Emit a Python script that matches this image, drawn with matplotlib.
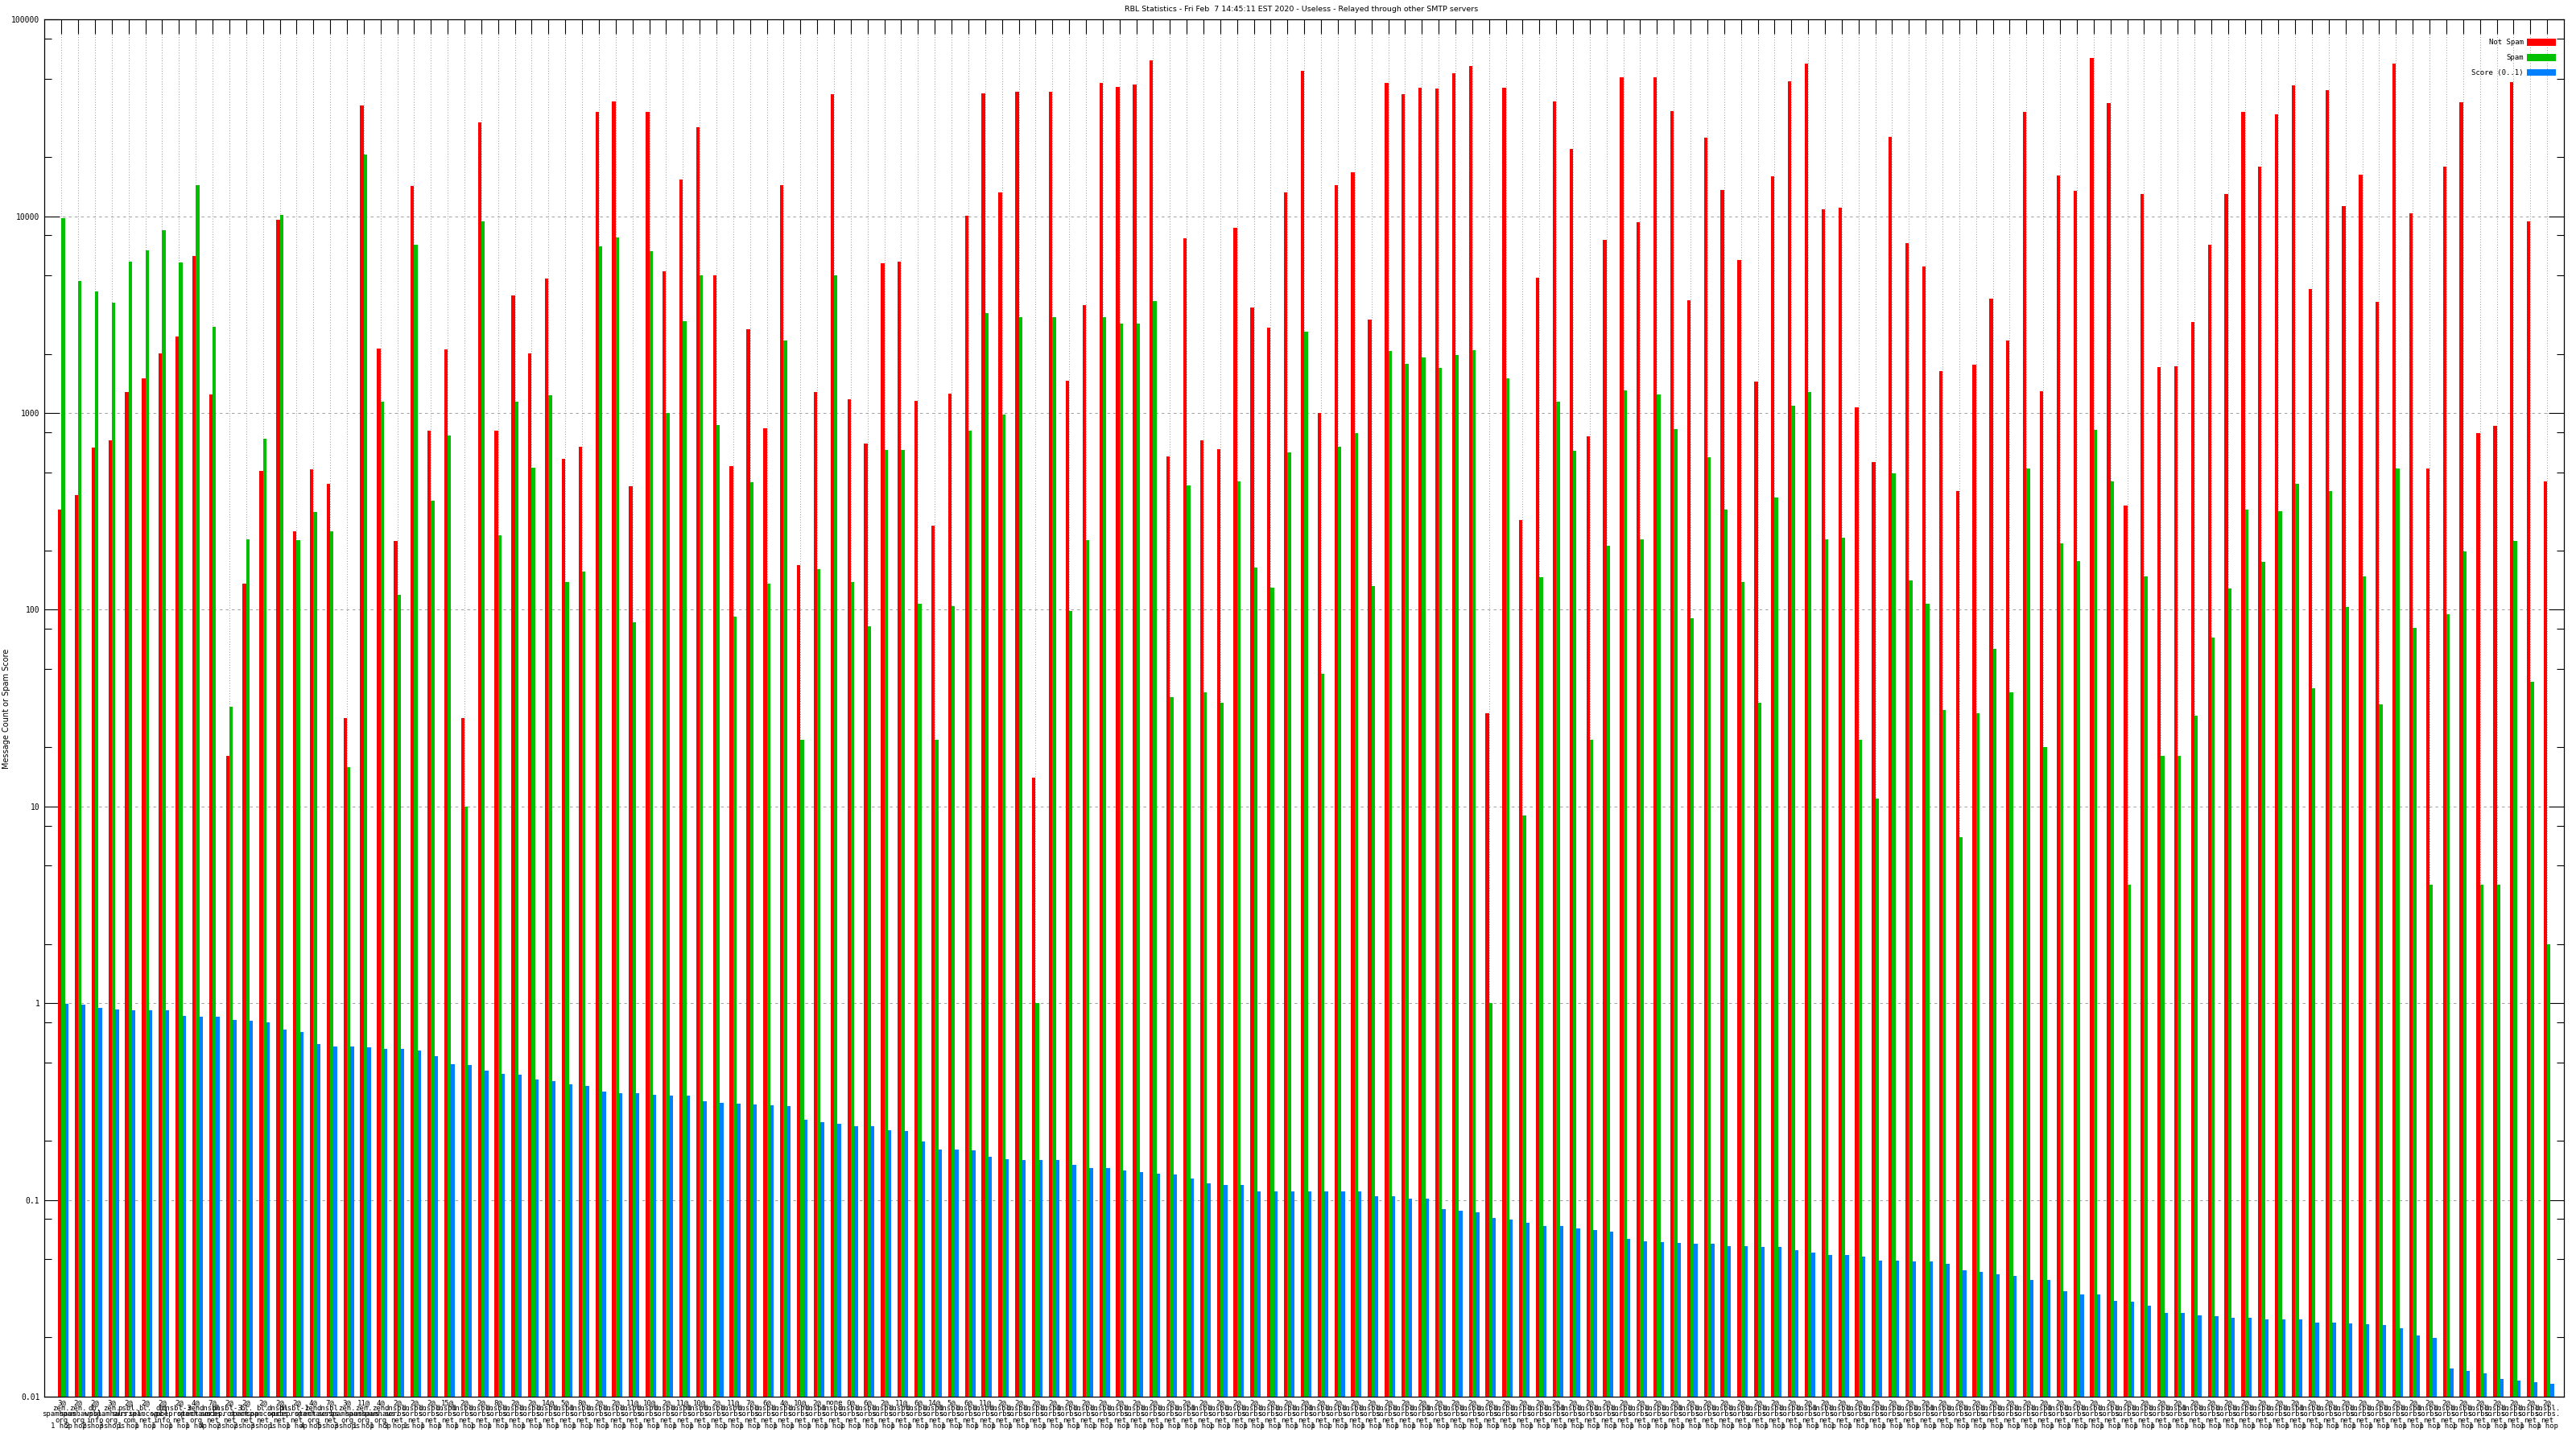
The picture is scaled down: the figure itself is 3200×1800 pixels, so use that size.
import matplotlib
matplotlib.use("Agg")
import matplotlib.pyplot as plt
import numpy as np
from matplotlib.ticker import FixedLocator, FixedFormatter, NullFormatter
from matplotlib.patches import Patch

plt.rcParams['lines.scale_dashes'] = False

TITLE = "RBL Statistics - Fri Feb  7 14:45:11 EST 2020 - Useless - Relayed through other SMTP servers"

not_spam = [324, 383, 668, 726, 1282, 1496, 2018, 2455, 6285, 1242,
            18.0, 136, 506, 9594, 251, 516, 438, 28.1, 36700, 2125,
            224, 14200, 813, 2103, 28.1, 29900, 813, 3948, 2018, 4805,
            585, 676, 33800, 38300, 425, 33800, 5272, 15420, 28400, 5010,
            538, 2668, 839, 14350, 168, 1282, 41600, 1180, 697, 5785,
            5906, 1156, 267, 1255, 10100, 42000, 13220, 42900, 14.0, 42900,
            1465, 3525, 47550, 45600, 46600, 62200, 603, 7730, 726, 655,
            8745, 3452, 2723, 13220, 54900, 1000, 14350, 16760, 2987, 47550,
            41600, 45150, 44700, 53250, 57850, 29.9, 45150, 287, 4855, 38300,
            21900, 765, 7570, 51100, 9300, 51100, 34200, 3750, 25070, 13640,
            5970, 1450, 15910, 48550, 59700, 10860, 11090, 1064, 561, 25330,
            7330, 5550, 1641, 403, 1765, 3828, 2332, 33800, 1295, 16080,
            13490, 63500, 37500, 338, 12940, 1711, 1722, 2897, 7190, 12940,
            33800, 17830, 33120, 46100, 4290, 43800, 11320, 16240, 3673, 59700,
            10310, 522, 17830, 37870, 789, 857, 48050, 9400, 451]

spam = [9800, 4705, 4156, 3636, 5906, 6683, 8478, 5845, 14350, 2750,
        32.1, 228, 741, 10200, 226, 315, 251, 15.9, 20600, 1143,
        119, 7190, 360, 772, 10, 9400, 240, 1143, 527, 1230,
        139, 157, 7040, 7800, 86.5, 6620, 1000, 2927, 5010, 865,
        92, 447, 136, 2332, 21.9, 161, 5010, 139, 82.2, 648,
        648, 107, 21.9, 104, 813, 3212, 979, 3083, 1.0, 3083,
        99, 226, 3083, 2838, 2838, 3713, 36.0, 429, 37.9, 33.8,
        451, 164, 129, 629, 2586, 47.1, 676, 789, 132, 2061,
        1783, 1918, 1693, 1977, 2081, 1.0, 1496, 9.0, 147, 1143,
        641, 21.9, 212, 1308, 228, 1242, 830, 90.2, 597, 324,
        139, 33.8, 371, 1086, 1282, 228, 233, 21.9, 11.0, 495,
        141, 107, 30.8, 6.97, 29.9, 63.5, 37.9, 522, 20.0, 217,
        176, 822, 451, 3.99, 148, 18.0, 18.0, 29.0, 71.9, 128,
        324, 175, 318, 438, 39.9, 403, 103, 148, 33.1, 522,
        80.5, 3.99, 95, 198, 3.99, 3.99, 224, 42.9, 2.0]

score = [0.99, 0.98, 0.950, 0.930, 0.921, 0.921, 0.921, 0.865, 0.856, 0.856,
         0.822, 0.814, 0.797, 0.734, 0.711, 0.622, 0.603, 0.603, 0.597, 0.584,
         0.584, 0.573, 0.538, 0.490, 0.485, 0.456, 0.438, 0.433, 0.411, 0.403,
         0.387, 0.379, 0.356, 0.349, 0.349, 0.342, 0.338, 0.338, 0.318, 0.311,
         0.308, 0.305, 0.302, 0.299, 0.256, 0.249, 0.243, 0.238, 0.238, 0.226,
         0.224, 0.198, 0.180, 0.180, 0.179, 0.166, 0.161, 0.159, 0.159, 0.159,
         0.151, 0.145, 0.145, 0.141, 0.138, 0.136, 0.135, 0.128, 0.122, 0.119,
         0.119, 0.111, 0.111, 0.111, 0.111, 0.110, 0.110, 0.110, 0.104, 0.104,
         0.102, 0.102, 0.0902, 0.0884, 0.0866, 0.0813, 0.0796, 0.0764, 0.0734, 0.0734,
         0.0719, 0.0705, 0.0691, 0.0635, 0.0616, 0.0610, 0.0604, 0.0598, 0.0598, 0.0585,
         0.0585, 0.0579, 0.0579, 0.0555, 0.0538, 0.0527, 0.0527, 0.0516, 0.0490, 0.0490,
         0.0485, 0.0485, 0.0475, 0.0438, 0.0429, 0.0420, 0.0412, 0.0391, 0.0391, 0.0342,
         0.0331, 0.0331, 0.0308, 0.0305, 0.0290, 0.0267, 0.0267, 0.0259, 0.0256, 0.0251,
         0.0251, 0.0248, 0.0248, 0.0248, 0.0238, 0.0238, 0.0236, 0.0233, 0.0231, 0.0223,
         0.0204, 0.0198, 0.0139, 0.0135, 0.0132, 0.0123, 0.0121, 0.0118, 0.0116]

weights = ["3@", "2@", "2@", "3@", "2@", "2@", "2@", "2@", "4@", "7@",
           "2@", "2@", "2@", "2@", "2@", "4@", "7@", "3@", "11@", "4@",
           "2@", "2@", "2@", "15@", "2@", "2@", "8@", "2@", "2@", "14@",
           "5@", "8@", "2@", "2@", "11@", "10@", "2@", "11@", "10@", "2@",
           "11@", "7@", "6@", "4@", "10@", "2@", "none", "0@", "6@", "2@",
           "11@", "6@", "14@", "5@", "6@", "11@"] + ["2@"] * 93

hosts = ["zen.spamhaus.org", "zen.spamhaus.org", "db.wpbl.info", "zen.spamhaus.org",
         "psbl.surriel.com", "bl.spamcop.net", "db.wpbl.info", "dnsbl-3.uceprotect.net",
         "zen.spamhaus.org", "dnsbl.sorbs.net", "dnsbl-3.uceprotect.net", "bl.spamcop.net",
         "bl.spamcop.net", "dnsbl.sorbs.net", "dnsbl-1.uceprotect.net", "zen.spamhaus.org",
         "dnsbl.sorbs.net", "zen.spamhaus.org", "zen.spamhaus.org", "zen.spamhaus.org",
         "dnsbl.sorbs.net", "dnsbl.sorbs.net", "dnsbl.sorbs.net"] + ["dnsbl.sorbs.net"] * 126

hops = ["1 hop", "2 hops", "2 hops", "3 hops", "1 hop", "1 hop", "1 hop", "1 hop",
        "1 hop", "4 hops", "2 hops", "2 hops", "3 hops", "1 hop", "1 hop", "4 hops",
        "5 hops", "3 hops", "1 hop", "1 hop", "3 hops", "1 hop", "1 hop"] + ["1 hop"] * 126

labels = [w + "\n" + h.replace(".", ".\n") + "\n" + p
          for w, h, p in zip(weights, hosts, hops)]

W, H = 3200, 1800
fig = plt.figure(figsize=(W / 100, H / 100), dpi=100)
left, right, top, bottom = 55, 3185, 24.3, 1735
ax = fig.add_axes([left / W, 1 - bottom / H, (right - left) / W, (bottom - top) / H])

x = np.arange(len(not_spam))
bw = 0.208
ax.bar(x - bw, not_spam, width=bw, align='edge', color='#ff0000', linewidth=0, zorder=3)
ax.bar(x, spam, width=bw, align='edge', color='#00c000', linewidth=0, zorder=3)
ax.bar(x + bw, score, width=bw, align='edge', color='#0080ff', linewidth=0, zorder=3)

ax.set_yscale('log')
ax.set_ylim(0.01, 100000)
ax.set_xlim(-1.02, 149.0)

major = [0.01, 0.1, 1, 10, 100, 1000, 10000, 100000]
ax.yaxis.set_major_locator(FixedLocator(major))
ax.yaxis.set_major_formatter(FixedFormatter(["0.01", "0.1", "1", "10", "100", "1000", "10000", "100000"]))
minor = [m * 10.0 ** k for k in range(-2, 5) for m in (2, 5, 8)]
ax.yaxis.set_minor_locator(FixedLocator(minor))
ax.yaxis.set_minor_formatter(NullFormatter())

ax.set_xticks(x)
ax.set_xticklabels(labels, fontsize=6.5, family='DejaVu Sans Mono', linespacing=0.76, va='top', ha='center')
for t in ax.get_yticklabels():
    t.set_family('DejaVu Sans Mono')
    t.set_fontsize(7)

ax.tick_params(axis='y', which='major', direction='in', length=13.5, width=0.8, left=True, right=True, pad=4)
ax.tick_params(axis='y', which='minor', direction='in', length=6.7, width=0.8, left=True, right=True)
ax.tick_params(axis='x', which='major', direction='in', length=13, width=0.8, top=True, bottom=True, pad=2)

ax.set_axisbelow(True)
ax.yaxis.grid(True, which='major', color='#a0a0a0', linewidth=0.7, linestyle=(0, (2.5, 2.9)))
ax.xaxis.grid(True, which='major', color='#999999', linewidth=0.7, linestyle=(0, (0.72, 1.6)))
for s in ax.spines.values():
    s.set_linewidth(0.9)
    s.set_color('black')

handles = [Patch(facecolor='#ff0000', edgecolor='none'),
           Patch(facecolor='#00c000', edgecolor='none'),
           Patch(facecolor='#0080ff', edgecolor='none')]
leg = ax.legend(handles, ["Not Spam", "Spam", "Score (0..1)"], loc='upper right',
                bbox_to_anchor=((3175 - left) / (right - left), 1 - (48 - top) / (bottom - top)),
                frameon=False, markerfirst=False, handlelength=4.0, handleheight=1.1,
                labelspacing=1.05, handletextpad=0.45, borderpad=0, borderaxespad=0,
                prop={'family': 'DejaVu Sans Mono', 'size': 6.5})

fig.text(1617 / W, 1 - 12 / H, TITLE, ha='center', va='center', fontsize=6.8, family='DejaVu Sans')
fig.text(8 / W, 1 - 880 / H, "Message Count or Spam Score", rotation=90, ha='center', va='center',
         fontsize=7, family='DejaVu Sans')

fig.savefig("out.png", dpi=100, facecolor='white')
